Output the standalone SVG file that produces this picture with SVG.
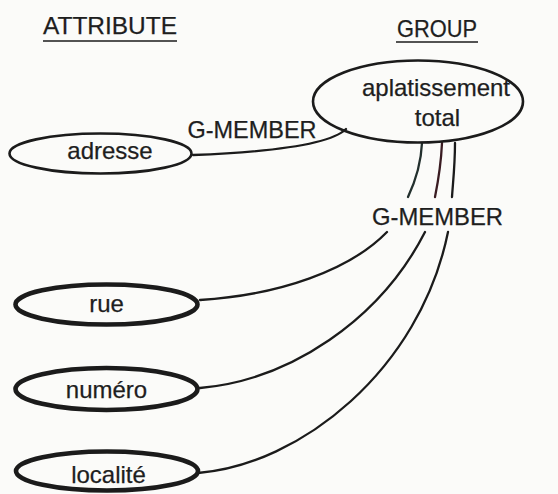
<svg xmlns="http://www.w3.org/2000/svg" width="558" height="494" viewBox="0 0 558 494">
  <style>
    text { font-family: "Liberation Sans", Arial, Helvetica, sans-serif; font-size: 24px; fill: #1e1e1e; stroke: #1e1e1e; stroke-width: 0.25; text-anchor: middle; }
    .ul { stroke: #1b1b1b; stroke-width: 1.6; }
    .thin { fill: none; stroke: #1b1b1b; stroke-width: 2.6; }
    .bold { fill: none; stroke: #1b1b1b; stroke-width: 4.6; }
    .conn path { fill: none; stroke: #1b1b1b; stroke-width: 2.3; stroke-linecap: round; }
  </style>
  <rect width="558" height="494" fill="#fbfbf9"/>

  <!-- column headers -->
  <g id="headers">
    <text x="110" y="34" textLength="134" lengthAdjust="spacingAndGlyphs">ATTRIBUTE</text>
    <line class="ul" x1="43" y1="41" x2="177" y2="41"/>
    <text x="437" y="37" textLength="80" lengthAdjust="spacingAndGlyphs">GROUP</text>
    <line class="ul" x1="396" y1="42" x2="478" y2="42"/>
  </g>

  <!-- connectors -->
  <g id="connectors" class="conn">
    <path d="M193,155 C270,152 330,145 346,129"/>
    <path d="M422,143 C421,165 415,182 408,197" style="stroke:#23302e"/>
    <path d="M442,143 C441,165 438,182 435,197" style="stroke:#3a1c22"/>
    <path d="M455,143 C455,165 453,182 452,197"/>
    <path d="M200,300 C280,295 350,270 387,232"/>
    <path d="M200,388 C290,380 380,320 425,232"/>
    <path d="M198,473 C300,465 420,370 448,232"/>
    <text x="252" y="138" textLength="129" lengthAdjust="spacingAndGlyphs">G-MEMBER</text>
    <text x="437.5" y="225" textLength="131" lengthAdjust="spacingAndGlyphs">G-MEMBER</text>
  </g>

  <!-- group node -->
  <g id="aplatissement-total">
    <ellipse class="thin" cx="418" cy="101.5" rx="105" ry="41"/>
    <text x="436" y="96">aplatissement</text>
    <text x="437.5" y="126">total</text>
  </g>

  <!-- attribute nodes -->
  <g id="adresse">
    <ellipse class="thin" cx="100.5" cy="153.5" rx="91" ry="20"/>
    <text x="110" y="159">adresse</text>
  </g>
  <g id="rue">
    <ellipse class="bold" cx="106.5" cy="304.5" rx="91" ry="20"/>
    <text x="106.5" y="312">rue</text>
  </g>
  <g id="numero">
    <ellipse class="bold" cx="106.5" cy="389" rx="91" ry="21"/>
    <text x="106.5" y="398">numéro</text>
  </g>
  <g id="localite">
    <ellipse class="bold" cx="107" cy="471" rx="91" ry="19.5"/>
    <text x="108.5" y="483">localité</text>
  </g>
</svg>
